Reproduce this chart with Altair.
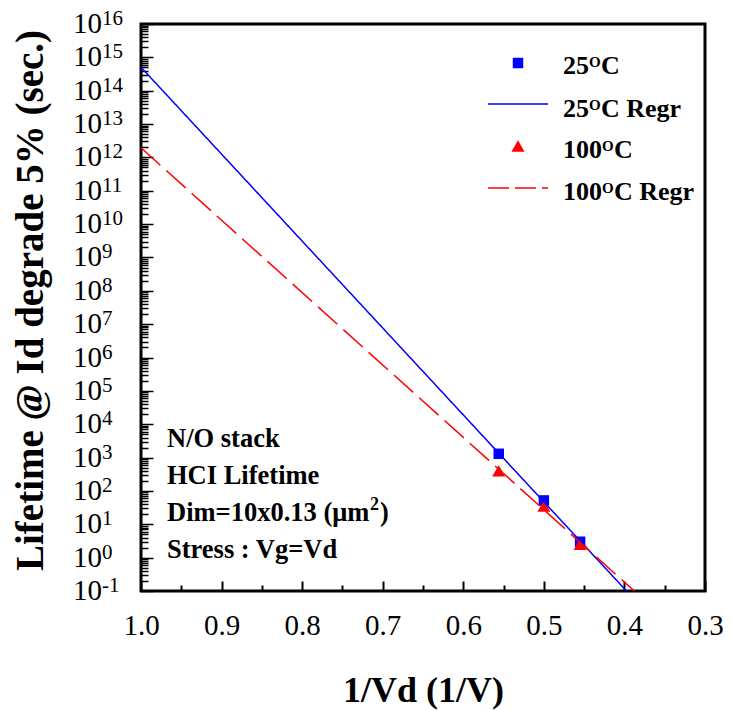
import altair as alt
import pandas as pd

# ---------------- data ----------------
inv_vd = [0.556, 0.500, 0.455]          # 1/Vd (1/V)
life_25 = [1300.0, 52.0, 3.0]           # 25 C lifetime (sec.)
life_100 = [400.0, 35.0, 2.5]           # 100 C lifetime (sec.)
series_names = ["25C", "100C"]
series_colors = ["#0000ff", "#ff0000"]
series_shapes = ["square", "triangle-up"]

x_label_values = [1.0, 0.9, 0.8, 0.7, 0.6, 0.5, 0.4, 0.3]
x_tick_values = [0.30, 0.35, 0.40, 0.45, 0.50, 0.55, 0.60, 0.65, 0.70,
                 0.75, 0.80, 0.85, 0.90, 0.95, 1.00]
y_exponents = list(range(-1, 17))
regr_extent = [0.38, 1.0]

x_title = "1/Vd (1/V)"
y_title = "Lifetime @ Id degrade 5% (sec.)"
notes = ["N/O stack", "HCI Lifetime", "Dim=10x0.13 (\u03bcm\u00b2)", "Stress : Vg=Vd"]
leg_nums = ["25", "25", "100", "100"]
leg_suffix = ["C", "C Regr", "C", "C Regr"]

# ---------------- layout ----------------
SERIF = "Liberation Serif"
W, H = 564, 567
X0, Y0 = 141, 24   # plot origin on the page

pts = pd.DataFrame({
    "x": inv_vd + inv_vd,
    "y": life_25 + life_100,
    "series": [series_names[0]] * 3 + [series_names[1]] * 3,
})

y_minor = []
for e in range(-1, 16):
    for m in range(1, 10):
        y_minor.append(m * 10.0 ** e)
y_minor.append(1e16)

xscale = alt.Scale(domain=[0.3, 1.0], reverse=True, nice=False, zero=False)
yscale = alt.Scale(type="log", domain=[0.1, 1e16], nice=False)
color = alt.Color("series:N", scale=alt.Scale(domain=series_names, range=series_colors), legend=None)

points = alt.Chart(pts).mark_point(filled=True, opacity=1).encode(
    x=alt.X("x:Q", scale=xscale, axis=alt.Axis(
        orient="bottom", values=x_label_values, format=".1f", ticks=False, domain=False,
        grid=False, labelFont=SERIF, labelFontSize=29, labelColor="black", labelPadding=20,
        labelFlush=False, labelOverlap=False,
        title=x_title, titleFont=SERIF, titleFontSize=36, titleFontWeight="bold",
        titleColor="black", titleBaseline="alphabetic", titleY=110, titleX=W / 2)),
    y=alt.Y("y:Q", scale=yscale, axis=alt.Axis(
        orient="left", labels=False, ticks=False, domain=False, grid=False,
        title=y_title, titleFont=SERIF, titleFontSize=39, titleFontWeight="bold",
        titleColor="black", titleAngle=270, titleBaseline="alphabetic", titleAlign="center",
        titleX=42 - X0, titleY=300 - Y0)),
    shape=alt.Shape("series:N", scale=alt.Scale(domain=series_names, range=series_shapes), legend=None),
    color=color,
    size=alt.Size("series:N", scale=alt.Scale(domain=series_names, range=[110, 170]), legend=None),
)

major_x = "abs(datum.value*10 - round(datum.value*10)) < 0.01"
major_y = "abs(log(datum.value)/LN10 - round(log(datum.value)/LN10)) < 0.001"

lines = alt.Chart(pts).transform_calculate(
    ly="log(datum.y)/LN10"
).transform_regression(
    "x", "ly", groupby=["series"], extent=regr_extent
).transform_calculate(
    yfit="pow(10, datum.ly)"
).mark_line(clip=True, strokeWidth=1.5).encode(
    x=alt.X("x:Q", scale=xscale, axis=alt.Axis(
        orient="top", offset=-H, values=x_tick_values, labels=False, domain=False, grid=False,
        tickColor="black", tickWidth=2,
        tickSize={"condition": {"test": major_x, "value": 10}, "value": 6}, title=None)),
    y=alt.Y("yfit:Q", scale=yscale, axis=alt.Axis(
        orient="right", offset=-W, values=y_minor, labels=False, domain=False, grid=False,
        tickColor="black", tickWidth=1.5,
        tickSize={"condition": {"test": major_y, "value": 12}, "value": 7}, title=None)),
    color=color,
    strokeDash=alt.StrokeDash("series:N", scale=alt.Scale(domain=series_names, range=[[1, 0], [26, 8]]), legend=None),
)

ylab = pd.DataFrame({
    "v": [10.0 ** e for e in y_exponents],
    "base": ["10"] * len(y_exponents),
    "exp": [str(e) for e in y_exponents],
})
ybase = alt.Chart(ylab).mark_text(align="left", baseline="middle", font=SERIF, fontSize=29, color="black").encode(
    y=alt.Y("v:Q", scale=yscale, axis=None), x=alt.value(73 - X0), text="base:N")
yexp = alt.Chart(ylab).mark_text(align="left", baseline="middle", font=SERIF, fontSize=21, color="black", dy=-5).encode(
    y=alt.Y("v:Q", scale=yscale, axis=None), x=alt.value(102 - X0), text="exp:N")

one = pd.DataFrame({"a": [0]})


def txt(s, x, y, size, weight="bold"):
    return alt.Chart(one).mark_text(
        align="left", baseline="alphabetic", font=SERIF, fontSize=size, fontWeight=weight,
        color="black").encode(x=alt.value(x - X0), y=alt.value(y - Y0), text=alt.value(s))


# annotation block
note_layers = []
note_base = [447, 484, 521, 558]
NF = 26.5
for i, s in enumerate(notes):
    if "\u00b2" in s:
        head, tail = s.split("\u00b2")
        w_head = 7.62 * NF  # width of "Dim=10x0.13 (\u03bcm" in Times bold ems
        note_layers.append(txt(head, 167, note_base[i], NF))
        note_layers.append(txt("2", 167 + w_head + 1, note_base[i] - 11, 18))
        note_layers.append(txt(tail, 167 + w_head + 11, note_base[i], NF))
    else:
        note_layers.append(txt(s, 167, note_base[i], NF))

# manual legend
leg_layers = []
sym_y = [63, 104, 146, 188]
txt_y = [74, 117, 158, 200]
FS = 26
for i in range(4):
    col = series_colors[i // 2]
    if i % 2 == 0:
        leg_layers.append(alt.Chart(one).mark_point(
            filled=True, opacity=1, size=[110, 170][i // 2], shape=series_shapes[i // 2], color=col).encode(
            x=alt.value(518 - X0), y=alt.value(sym_y[i] - Y0)))
    else:
        dash = [1, 0] if i == 1 else [21, 6]
        leg_layers.append(alt.Chart(one).mark_rule(color=col, strokeWidth=1.5, strokeDash=dash).encode(
            x=alt.value(488 - X0), x2=alt.value(548 - X0), y=alt.value(sym_y[i] - Y0)))
    tx = 563
    wnum = len(leg_nums[i]) * FS * 0.5
    leg_layers.append(txt(leg_nums[i], tx, txt_y[i], FS))
    leg_layers.append(txt("O", tx + wnum, txt_y[i] - 7, 15))
    leg_layers.append(txt(leg_suffix[i], tx + wnum + 12, txt_y[i], FS))

chart = alt.layer(points, lines, ybase, yexp, *note_layers, *leg_layers).resolve_axis(
    x="independent", y="independent"
).properties(
    width=W, height=H,
    autosize=alt.AutoSizeParams(type="none"),
    padding={"left": X0 - 8, "top": Y0 - 8, "right": 18, "bottom": 119},
    background="white",
).configure_view(stroke="black", strokeWidth=3)

chart.save("out.html", embed_options={"renderer": "svg", "actions": False})
